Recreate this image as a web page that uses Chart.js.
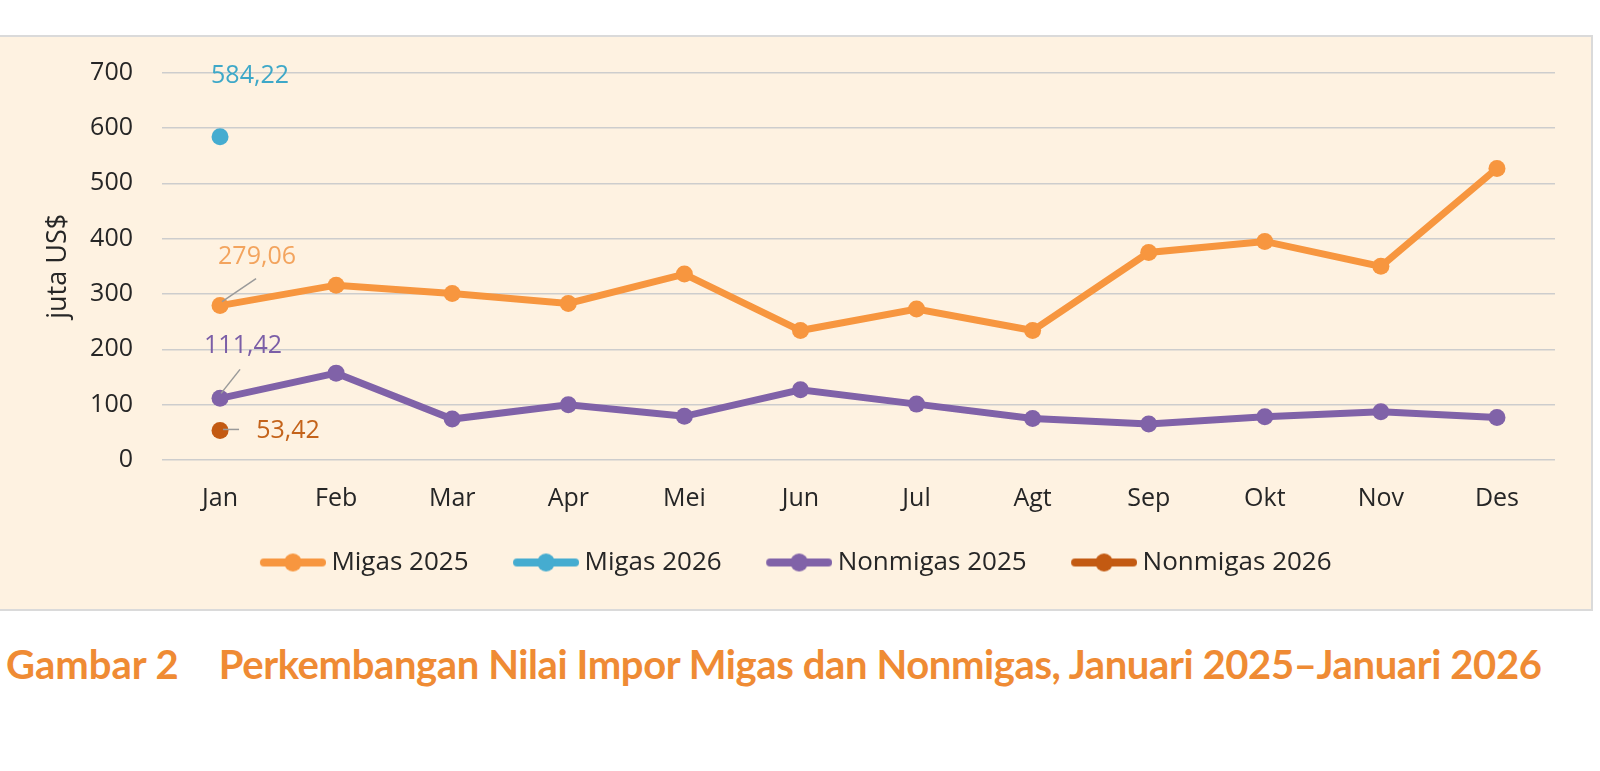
<!DOCTYPE html>
<html>
<head>
<meta charset="utf-8">
<script src="https://cdn.jsdelivr.net/npm/chart.js@4.4.1/dist/chart.umd.min.js"></script>
<style>
  html, body { margin: 0; padding: 0; background: #fff; width: 1600px; height: 771px; overflow: hidden; }
  #panel { position: absolute; left: -2px; top: 35px; width: 1595px; height: 576px; box-sizing: border-box;
           background: #fef2e1; border: 2px solid #dadada; }
  #wrap { position: absolute; left: 0; top: 36px; width: 1591px; height: 573px; }
  #caption { position: absolute; left: 6px; top: 640px; font-family: Lato, sans-serif; font-weight: 700;
             font-size: 40px; line-height: 48px; color: #ef8b34; white-space: nowrap; }
  #caption span { margin-left: 40px; letter-spacing: -0.4px; }
</style>
</head>
<body>
<div id="panel"></div>
<div id="wrap"><canvas id="imporChart"></canvas></div>
<div id="caption">Gambar 2<span>Perkembangan Nilai Impor Migas dan Nonmigas, Januari 2025–Januari 2026</span></div>

<script>
const months = ['Jan', 'Feb', 'Mar', 'Apr', 'Mei', 'Jun', 'Jul', 'Agt', 'Sep', 'Okt', 'Nov', 'Des'];
const seriesNames = ['Migas 2025', 'Migas 2026', 'Nonmigas 2025', 'Nonmigas 2026'];
const migas2025 = [279.06, 316, 301, 283, 336, 234, 273, 234, 375, 395, 350, 527];
const migas2026 = [584.22];
const nonmigas2025 = [111.42, 157, 74, 100, 79, 127, 101, 75, 65, 78, 87, 77];
const nonmigas2026 = [53.42];
const yMin = 0, yMax = 700, yStep = 100;

const colors = ['#f7963f', '#45acd0', '#8062a8', '#c35a12'];
const FONT = "'Open Sans', sans-serif";

// legend marker: a thick line with a dot in the middle
function legendMarker(color, w, lineLen) {
  const c = document.createElement('canvas');
  c.width = w; c.height = 22;
  const g = c.getContext('2d');
  const x0 = w - lineLen;
  g.strokeStyle = color;
  g.lineWidth = 8;
  g.lineCap = 'round';
  g.beginPath();
  g.moveTo(x0 + 4, 11);
  g.lineTo(w - 4, 11);
  g.stroke();
  g.fillStyle = color;
  g.beginPath();
  g.arc(x0 + lineLen / 2, 11, 9, 0, Math.PI * 2);
  g.fill();
  return c;
}

// data value labels for the January points
const valueLabels = [
  { ds: 1, dx: 30, dy: -61, color: '#3ea8c8', lead: null },
  { ds: 0, dx: 37, dy: -49, color: '#f3a45e', lead: [2, -4, 36, -27] },
  { ds: 2, dx: 23, dy: -52, color: '#7b5ea7', lead: [1, -5, 20, -29] },
  { ds: 3, dx: 68, dy: 0, color: '#c4631a', lead: [3, -1, 19, -1] }
];

const valueLabelPlugin = {
  id: 'valueLabels',
  afterDatasetsDraw(chart) {
    const ctx = chart.ctx;
    ctx.save();
    valueLabels.forEach(l => {
      const pt = chart.getDatasetMeta(l.ds).data[0];
      if (!pt) return;
      const v = chart.data.datasets[l.ds].data[0];
      if (l.lead) {
        ctx.strokeStyle = '#9a9a9a';
        ctx.lineWidth = 1.5;
        ctx.beginPath();
        ctx.moveTo(pt.x + l.lead[0], pt.y + l.lead[1]);
        ctx.lineTo(pt.x + l.lead[2], pt.y + l.lead[3]);
        ctx.stroke();
      }
      ctx.fillStyle = l.color;
      ctx.font = '25px ' + FONT;
      ctx.textAlign = 'center';
      ctx.textBaseline = 'middle';
      ctx.fillText(v.toFixed(2).replace('.', ','), pt.x + l.dx, pt.y + l.dy);
    });
    ctx.restore();
  }
};

const lineData = [migas2025, migas2026, nonmigas2025, nonmigas2026];

const canvas = document.getElementById('imporChart');
const ctx = canvas.getContext('2d');

new Chart(ctx, {
  type: 'line',
  data: {
    labels: months,
    datasets: lineData.map((d, i) => ({
      label: seriesNames[i],
      data: d,
      borderColor: colors[i],
      backgroundColor: colors[i],
      borderWidth: 7,
      pointRadius: 8.5,
      pointBorderWidth: 0,
      pointBackgroundColor: colors[i],
      tension: 0,
      fill: false
    }))
  },
  options: {
    responsive: true,
    maintainAspectRatio: false,
    animation: false,
    layout: { padding: { left: 0, right: 36, top: 36.7, bottom: 23.5 } },
    plugins: {
      tooltip: { enabled: false },
      legend: {
        position: 'bottom',
        labels: {
          usePointStyle: true,
          pointStyleWidth: 95,
          padding: 8,
          color: '#262626',
          font: { family: FONT, size: 26 },
          generateLabels(chart) {
            const items = Chart.defaults.plugins.legend.labels.generateLabels(chart);
            items.forEach((it, i) => {
              it.pointStyle = legendMarker(colors[i], 110, 66);
            });
            return items;
          }
        }
      }
    },
    scales: {
      x: {
        offset: true,
        grid: { display: false, drawTicks: false },
        border: { display: false },
        ticks: { color: '#262626', padding: 24, font: { family: FONT, size: 25 } },
        afterFit(scale) { scale.height = 81.5; }
      },
      y: {
        min: yMin,
        max: yMax,
        grid: { color: '#cdcdcd', lineWidth: 1.5, drawTicks: false },
        border: { display: false },
        ticks: { stepSize: yStep, color: '#262626', padding: 29, font: { family: FONT, size: 25 } },
        title: {
          display: true,
          text: 'juta US$',
          color: '#262626',
          font: { family: FONT, size: 27 },
          padding: { top: 42, bottom: 0 }
        },
        afterFit(scale) {
          scale.width = 162;
          // tick padding should not push the plot area down
          scale.paddingTop = 0;
          scale.paddingBottom = 0;
        }
      }
    }
  },
  plugins: [valueLabelPlugin]
});
</script>
</body>
</html>
